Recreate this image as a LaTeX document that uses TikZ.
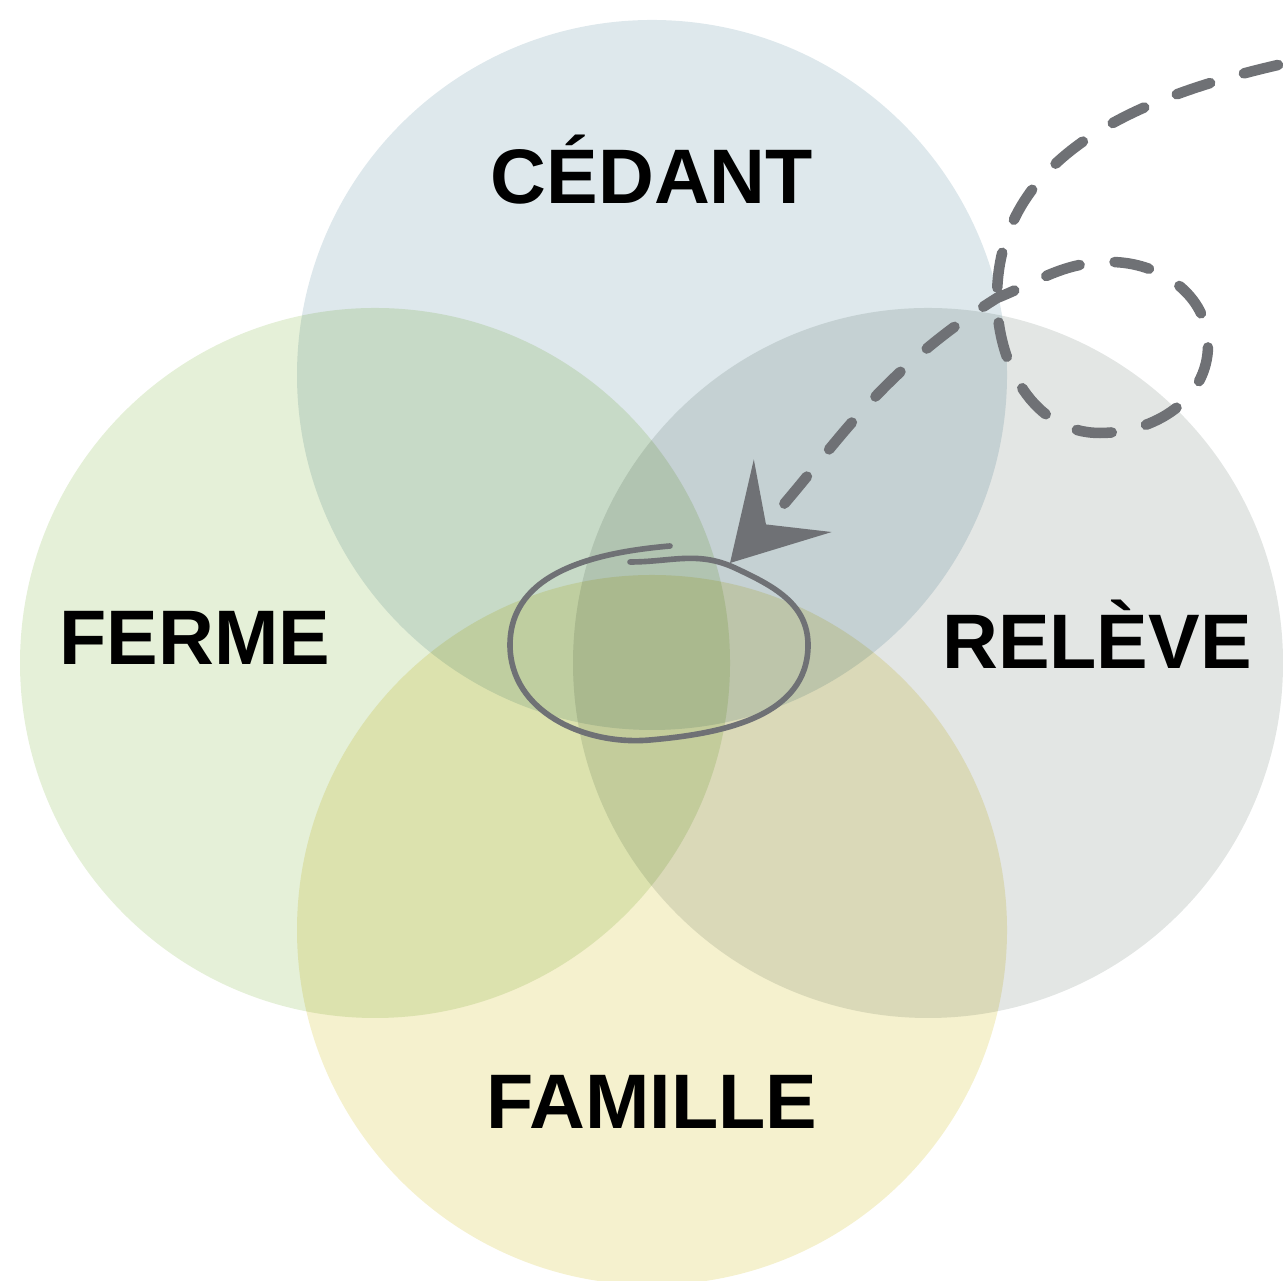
\documentclass[tikz,border=0pt]{standalone}
\usepackage{fontspec}
\setmainfont{Liberation Sans}
\usetikzlibrary{arrows.meta}

\definecolor{cedantBlue}{RGB}{222,232,236}
\definecolor{fermeGreen}{RGB}{229,240,216}
\definecolor{releveGray}{RGB}{227,230,228}
\definecolor{familleYellow}{RGB}{245,241,206}
\definecolor{penGray}{RGB}{111,113,117}

\tikzset{
  disk/.style={circle, minimum size=7.1cm, inner sep=0pt, outer sep=0pt, blend mode=multiply},
  setname/.style={font=\fontsize{22}{26}\selectfont\bfseries, text=black},
  penloop/.style={draw=penGray, line width=3pt, line cap=round, dash pattern=on 10pt off 10pt},
  penring/.style={draw=penGray, line width=1.6pt, line cap=round}
}

\begin{document}
\begin{tikzpicture}
    \useasboundingbox (0,0) rectangle (12.83,12.80);

    % the four sets
    \node[disk, fill=cedantBlue] (cedant) at (6.52,9.05) {};
    \node[disk, fill=fermeGreen] (ferme) at (3.75,6.17) {};
    \node[disk, fill=releveGray] (releve) at (9.28,6.17) {};
    \node[disk, fill=familleYellow] (famille) at (6.52,3.50) {};

    \node[setname] (cedantName) at (6.52,11.10) {CÉDANT};
    \node[setname] (fermeName) at (1.95,6.42) {FERME};
    \node[setname] (releveName) at (10.97,6.46) {RELÈVE};
    \node[setname] (familleName) at (6.52,1.78) {FAMILLE};

    % hand drawn ring round the middle
    \draw[penring] (6.30,7.18) to[out=0,in=155] (7.35,7.12)
          to[out=-25,in=90] (8.08,6.35) to[out=-90,in=5] (6.50,5.40)
          to[out=185,in=-90] (5.10,6.35) to[out=90,in=185] (6.70,7.34);

    \coordinate (start) at (12.78,12.15);
    \coordinate (cross) at (9.97,9.82);
    \coordinate (loopBottom) at (11.00,8.47);
    \coordinate (loopRight) at (12.08,9.35);
    \coordinate (loopTop) at (11.10,10.18);
    \coordinate (target) at (7.30,7.17);

    \draw[penloop, -{Stealth[length=26pt,width=30pt,inset=11pt]}]
          (start) to[out=193,in=90] (cross) to[out=-90,in=180] (loopBottom)
          to[out=0,in=-90] (loopRight) to[out=90,in=0] (loopTop)
          to[out=180,in=22] (cross) to[out=212,in=47] (target);
\end{tikzpicture}
\end{document}
